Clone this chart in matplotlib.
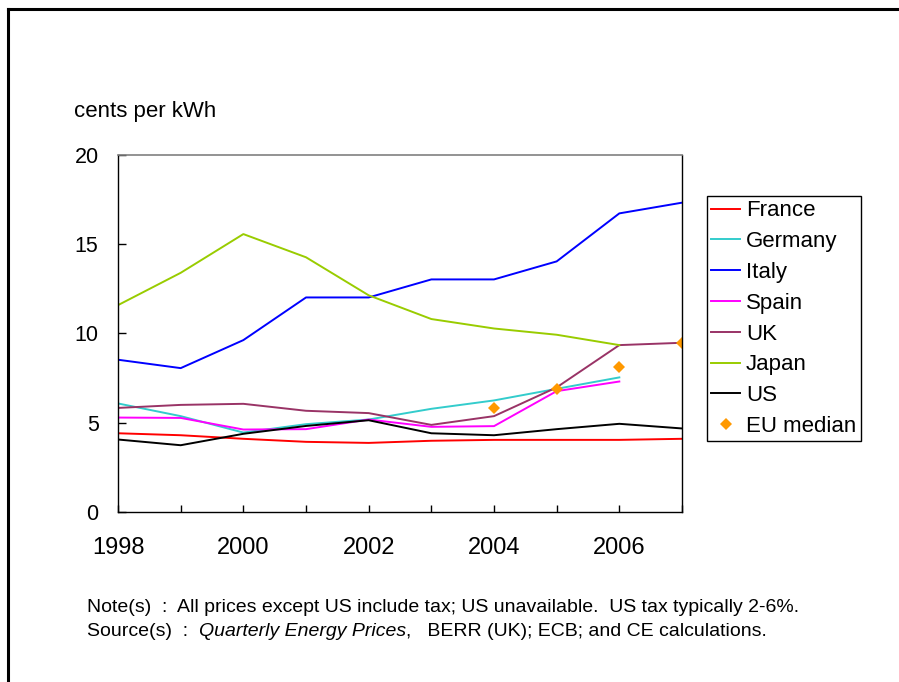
import matplotlib
matplotlib.use("Agg")
import matplotlib.pyplot as plt
from matplotlib.lines import Line2D

plt.rcParams["font.family"] = ["Liberation Sans", "DejaVu Sans"]

# electricity prices, cents per kWh
years = [1998, 1999, 2000, 2001, 2002, 2003, 2004, 2005, 2006, 2007]
france = [4.41, 4.30, 4.10, 3.93, 3.87, 3.99, 4.04, 4.04, 4.04, 4.10]
germany = [6.08, 5.37, 4.45, 4.92, 5.18, 5.78, 6.25, 6.90, 7.54]
italy = [8.53, 8.06, 9.63, 12.02, 12.02, 13.03, 13.03, 14.04, 16.73, 17.33]
spain = [5.29, 5.27, 4.62, 4.64, 5.18, 4.77, 4.81, 6.77, 7.31]
uk = [5.83, 6.00, 6.06, 5.67, 5.54, 4.88, 5.37, 6.98, 9.35, 9.48]
japan = [11.59, 13.40, 15.57, 14.27, 12.14, 10.81, 10.28, 9.93, 9.35]
us = [4.06, 3.74, 4.38, 4.82, 5.14, 4.41, 4.30, 4.64, 4.94, 4.68]
eu_years = [2004, 2005, 2006, 2007]
eu_median = [5.83, 6.90, 8.12, 9.48]

series = [
    ("France", france, "#FF0000"),
    ("Germany", germany, "#33CCCC"),
    ("Italy", italy, "#0000FF"),
    ("Spain", spain, "#FF00FF"),
    ("UK", uk, "#993366"),
    ("Japan", japan, "#99CC00"),
    ("US", us, "#000000"),
]

fig = plt.figure(figsize=(8.99, 6.82), dpi=100)
ax = fig.add_axes([0.1313, 0.2493, 0.6273, 0.5234])

handles = []
for name, vals, col in series:
    h, = ax.plot(years[:len(vals)], vals, color=col, linewidth=1.4, label=name)
    handles.append(h)
h, = ax.plot(eu_years, eu_median, linestyle="none", marker="D", markersize=6.5,
             color="#FF9900", markeredgewidth=0, label="EU median")
handles.append(h)

ax.set_xlim(1998, 2007)
ax.set_ylim(0, 20)
ax.set_yticks([0, 5, 10, 15, 20])
ax.set_xticks(years)
ax.set_xticklabels([str(y) if y % 2 == 0 else "" for y in years])
ax.tick_params(axis="x", direction="in", length=5, width=1, pad=18, labelsize=17)
ax.tick_params(axis="y", direction="in", length=6, width=1, pad=14, labelsize=15.5)
for s in ["left", "bottom", "right"]:
    ax.spines[s].set_color("black")
    ax.spines[s].set_linewidth(1.0)
ax.spines["top"].set_color("#808080")
ax.spines["top"].set_linewidth(1.2)

fig.text(74 / 899, 1 - 112 / 682, "cents per kWh", fontsize=16, va="center", ha="left")

leg = fig.legend(handles=handles, loc="upper left",
                 bbox_to_anchor=(707 / 899, 1 - 196 / 682),
                 fontsize=16, frameon=True, fancybox=False,
                 edgecolor="black", framealpha=1, borderpad=0.2,
                 labelspacing=0.44, handlelength=1.3, handletextpad=0.25,
                 borderaxespad=0)
leg.get_frame().set_linewidth(1.0)

# notes under the chart
fs_note = 14
fig.text(87 / 899, 1 - 607 / 682,
         "Note(s)  :  All prices except US include tax; US unavailable.  US tax typically 2-6%.",
         fontsize=fs_note, va="center", ha="left")
t1 = fig.text(87 / 899, 1 - 632 / 682, "Source(s)  :  ", fontsize=fs_note,
              va="center", ha="left")
a2 = ax.annotate("Quarterly Energy Prices", xy=(1, 0), xycoords=t1, fontsize=fs_note,
                 style="italic", va="bottom", ha="left", annotation_clip=False)
ax.annotate(",   BERR (UK); ECB; and CE calculations.", xy=(1, 0), xycoords=a2,
            fontsize=fs_note, va="bottom", ha="left", annotation_clip=False)

# page frame
fig.add_artist(Line2D([8 / 899, 8 / 899], [0, 1 - 9 / 682], transform=fig.transFigure,
                      color="black", linewidth=2.2))
fig.add_artist(Line2D([8 / 899, 1], [1 - 9 / 682, 1 - 9 / 682], transform=fig.transFigure,
                      color="black", linewidth=2.2))

fig.savefig("out.png", dpi=100)
